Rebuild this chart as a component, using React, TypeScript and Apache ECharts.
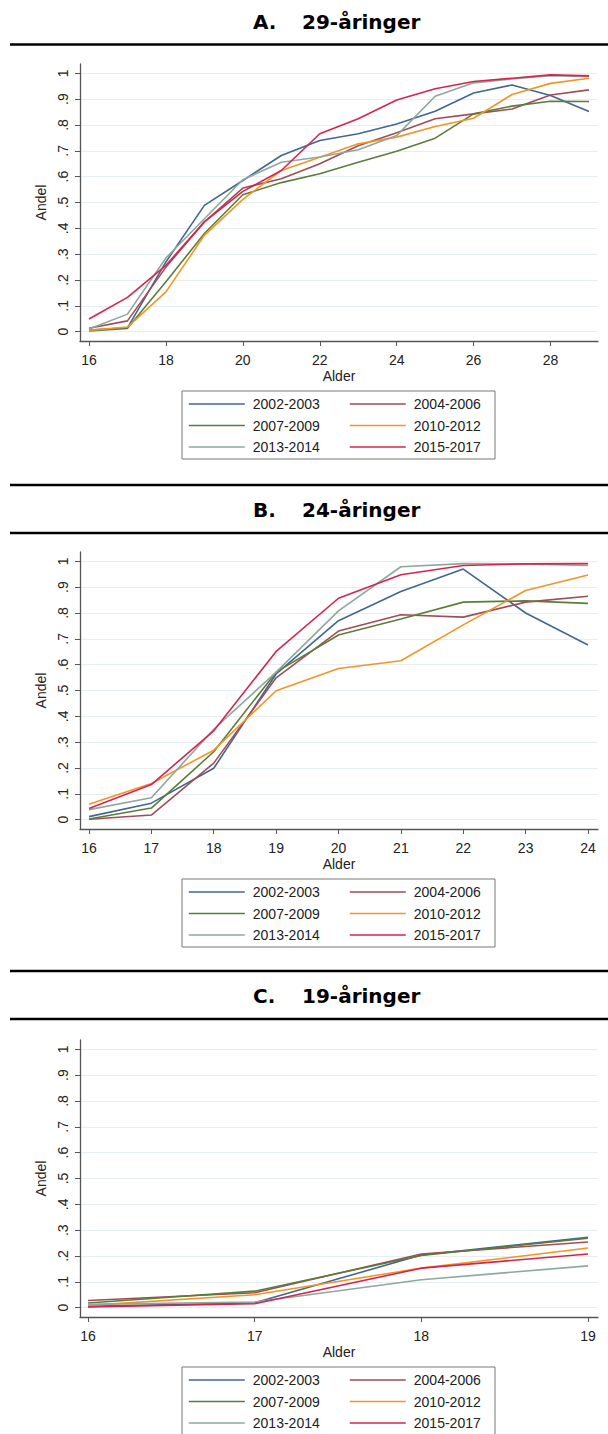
import React, { useEffect, useRef } from "react";
import * as echarts from "echarts";

const seriesNames = ["2002-2003", "2004-2006", "2007-2009", "2010-2012", "2013-2014", "2015-2017"];
const seriesColors = ["#3f6892", "#a24c57", "#5c7d3a", "#f29524", "#8ea89c", "#d6244f"];

const yTicks = [0, 0.1, 0.2, 0.3, 0.4, 0.5, 0.6, 0.7, 0.8, 0.9, 1];

// Panel A: 29-åringer
const agesA = [16, 17, 18, 19, 20, 21, 22, 23, 24, 25, 26, 27, 28, 29];
const ticksA = [16, 18, 20, 22, 24, 26, 28];
const a2002 = [0.006, 0.015, 0.27, 0.489, 0.585, 0.682, 0.74, 0.766, 0.804, 0.853, 0.924, 0.955, 0.914, 0.852];
const a2004 = [0.013, 0.042, 0.25, 0.425, 0.556, 0.592, 0.65, 0.72, 0.77, 0.824, 0.843, 0.862, 0.916, 0.936];
const a2007 = [0.003, 0.013, 0.193, 0.38, 0.53, 0.577, 0.611, 0.656, 0.698, 0.749, 0.843, 0.873, 0.892, 0.891];
const a2010 = [0.005, 0.018, 0.154, 0.373, 0.512, 0.624, 0.675, 0.727, 0.753, 0.794, 0.826, 0.918, 0.961, 0.981];
const a2013 = [0.01, 0.068, 0.285, 0.437, 0.588, 0.656, 0.676, 0.704, 0.759, 0.911, 0.963, 0.978, 0.991, 0.988];
const a2015 = [0.049, 0.133, 0.257, 0.425, 0.543, 0.624, 0.766, 0.824, 0.897, 0.94, 0.968, 0.981, 0.994, 0.99];

// Panel B: 24-åringer
const agesB = [16, 17, 18, 19, 20, 21, 22, 23, 24];
const ticksB = [16, 17, 18, 19, 20, 21, 22, 23, 24];
const b2002 = [0.012, 0.064, 0.199, 0.564, 0.77, 0.883, 0.97, 0.8, 0.676];
const b2004 = [0.002, 0.018, 0.219, 0.549, 0.73, 0.793, 0.784, 0.842, 0.865];
const b2007 = [0.003, 0.045, 0.263, 0.571, 0.715, 0.777, 0.842, 0.847, 0.837];
const b2010 = [0.06, 0.14, 0.269, 0.499, 0.585, 0.615, 0.754, 0.887, 0.947];
const b2013 = [0.039, 0.085, 0.35, 0.571, 0.808, 0.979, 0.991, 0.99, 0.984];
const b2015 = [0.043, 0.136, 0.344, 0.651, 0.857, 0.948, 0.984, 0.99, 0.991];

// Panel C: 19-åringer
const agesC = [16, 17, 18, 19];
const ticksC = [16, 17, 18, 19];
const c2002 = [0.005, 0.019, 0.204, 0.272];
const c2004 = [0.028, 0.058, 0.208, 0.254];
const c2007 = [0.018, 0.064, 0.202, 0.269];
const c2010 = [0.009, 0.05, 0.153, 0.231];
const c2013 = [0.013, 0.022, 0.108, 0.162];
const c2015 = [0.003, 0.015, 0.153, 0.208];

const panels = [
  { letter: "A.", title: "29-åringer", ages: agesA, ticks: ticksA, data: [a2002, a2004, a2007, a2010, a2013, a2015], xmin: 15.766, xmax: 29.234, top: 64, titleY: 22, lineTop: null as number | null, lineBottom: 44.5 },
  { letter: "B.", title: "24-åringer", ages: agesB, ticks: ticksB, data: [b2002, b2004, b2007, b2010, b2013, b2015], xmin: 15.856, xmax: 24.16, top: 552, titleY: 510, lineTop: 485, lineBottom: 533 },
  { letter: "C.", title: "19-åringer", ages: agesC, ticks: ticksC, data: [c2002, c2004, c2007, c2010, c2013, c2015], xmin: 15.952, xmax: 19.06, top: 1040, titleY: 996, lineTop: 971, lineBottom: 1019 },
];

const FONT = "'Liberation Sans', Arial, sans-serif";
const AXIS_COLOR = "#555";
const TEXT_COLOR = "#222";

function fmtY(v: number) {
  if (Math.abs(v) < 1e-9) return "0";
  if (Math.abs(v - 1) < 1e-9) return "1";
  return v.toFixed(1).replace(/^0/, "");
}

export default function App() {
  const ref = useRef<HTMLDivElement>(null);
  useEffect(() => {
    if (!ref.current) return;
    const chart = echarts.init(ref.current, undefined, { renderer: "svg" });
    const GRID_H = 277;

    const grids = panels.map((p) => ({ left: 80, right: 10, top: p.top, height: GRID_H, containLabel: false }));

    const xAxes = panels.map((p, i) => ({
      gridIndex: i,
      type: "value",
      min: p.xmin,
      max: p.xmax,
      name: "Alder",
      nameLocation: "middle",
      nameGap: 28,
      nameTextStyle: { fontSize: 14, fontFamily: FONT, color: TEXT_COLOR },
      axisLine: { show: true, onZero: false, lineStyle: { color: AXIS_COLOR, width: 1.3 } },
      axisTick: { show: true, length: 5, customValues: p.ticks, lineStyle: { color: AXIS_COLOR, width: 1 } },
      axisLabel: { customValues: p.ticks, margin: 12, fontSize: 14, fontFamily: FONT, color: TEXT_COLOR },
      splitLine: { show: false },
    }));

    const yAxes = panels.map((p, i) => ({
      gridIndex: i,
      type: "value",
      min: -0.036,
      max: 1.036,
      name: "Andel",
      nameLocation: "middle",
      nameGap: 22,
      nameTextStyle: { fontSize: 14, fontFamily: FONT, color: TEXT_COLOR },
      axisLine: { show: true, onZero: false, lineStyle: { color: AXIS_COLOR, width: 1.3 } },
      axisTick: { show: true, length: 5, customValues: yTicks, lineStyle: { color: AXIS_COLOR, width: 1 } },
      axisLabel: { customValues: yTicks, rotate: 90, margin: 10, fontSize: 14, fontFamily: FONT, color: TEXT_COLOR, formatter: fmtY },
      splitLine: { show: true, lineStyle: { color: "#e6eef1", width: 1 } },
    }));

    const series: any[] = [];
    panels.forEach((p, i) => {
      p.data.forEach((vals, k) => {
        series.push({
          type: "line",
          name: seriesNames[k],
          xAxisIndex: i,
          yAxisIndex: i,
          symbol: "none",
          data: p.ages.map((a, j) => [a, vals[j]]),
          lineStyle: { color: seriesColors[k], width: 1.6 },
          itemStyle: { color: seriesColors[k] },
          z: 2 + k,
        });
      });
    });

    const legends: any[] = [];
    const graphic: any[] = [];
    panels.forEach((p) => {
      const axisBottom = p.top + GRID_H;
      const boxTop = axisBottom + 50;
      [0, 1].forEach((col) => {
        legends.push({
          orient: "vertical",
          left: col === 0 ? 188 : 349,
          top: boxTop + 6,
          padding: 0,
          height: 80,
          itemWidth: 56,
          itemHeight: 14,
          itemGap: 7.5,
          selectedMode: false,
          itemStyle: { opacity: 0, borderWidth: 0 },
          lineStyle: { width: 1.6 },
          data: col === 0 ? [seriesNames[0], seriesNames[2], seriesNames[4]] : [seriesNames[1], seriesNames[3], seriesNames[5]],
          textStyle: { fontSize: 14, fontFamily: FONT, color: TEXT_COLOR, padding: [0, 0, 0, 3] },
        });
      });
      graphic.push({
        type: "rect",
        shape: { x: 182, y: boxTop, width: 313, height: 68 },
        style: { fill: "none", stroke: "#777", lineWidth: 1 },
        z: 0,
      });
      if (p.lineTop !== null) {
        graphic.push({ type: "line", shape: { x1: 10, y1: p.lineTop, x2: 608, y2: p.lineTop }, style: { stroke: "#000", lineWidth: 2.5 } });
      }
      graphic.push({ type: "line", shape: { x1: 10, y1: p.lineBottom, x2: 608, y2: p.lineBottom }, style: { stroke: "#000", lineWidth: 2.5 } });
      graphic.push({
        type: "text",
        x: 253,
        y: p.titleY,
        style: { text: p.letter, font: "bold 20px 'DejaVu Sans'", fill: "#000", verticalAlign: "middle", textAlign: "left" },
      });
      graphic.push({
        type: "text",
        x: 302,
        y: p.titleY,
        style: { text: p.title, font: "bold 20px 'DejaVu Sans'", fill: "#000", verticalAlign: "middle", textAlign: "left" },
      });
    });

    chart.setOption({
      animation: false,
      backgroundColor: "#fff",
      grid: grids,
      xAxis: xAxes,
      yAxis: yAxes,
      legend: legends,
      series,
      graphic,
    });
    return () => chart.dispose();
  }, []);
  return <div ref={ref} style={{ position: "absolute", left: 0, top: 0, width: 608, height: 1520 }} />;
}
